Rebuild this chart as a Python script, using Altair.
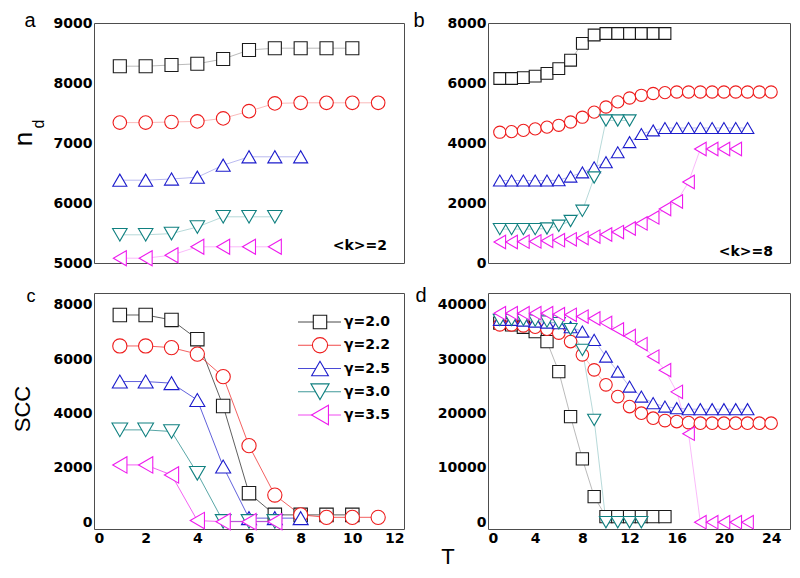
import altair as alt
import pandas as pd

SERIES = ["γ=2.0", "γ=2.2", "γ=2.5", "γ=3.0", "γ=3.5"]
COLORS = ["#1a1a1a", "#ee1c1c", "#1c1ccc", "#108080", "#ee1cee"]
SHAPES = ["square", "circle", "triangle-up", "triangle-down", "triangle-left"]

# ---- panel a (<k>=2, n_d) ----
a_sq = [8280, 8280, 8300, 8320, 8400, 8550, 8580, 8580, 8580, 8580]
a_ci = [7340, 7340, 7350, 7360, 7410, 7530, 7660, 7670, 7670, 7670, 7670]
a_tu = [6380, 6380, 6400, 6430, 6630, 6770, 6770, 6770]
a_td = [5470, 5470, 5490, 5600, 5770, 5770, 5770]
a_tl = [5080, 5080, 5130, 5270, 5270, 5270, 5270]

# ---- panel b (<k>=8, n_d) ----
b_sq = [6150, 6150, 6180, 6230, 6320, 6480, 6760, 7320, 7600, 7650, 7650, 7650, 7650, 7650, 7650]
b_ci = [4360, 4380, 4420, 4470, 4530, 4590, 4700, 4860, 5030, 5200, 5370, 5500, 5590, 5650, 5680,
        5700, 5700, 5700, 5700, 5700, 5700, 5700, 5700, 5700]
b_tu = [2750, 2750, 2750, 2750, 2750, 2760, 2880, 3020, 3190, 3360, 3690, 4030, 4300, 4420,
        4500, 4500, 4500, 4500, 4500, 4500, 4500, 4500]
b_td = [1130, 1130, 1130, 1130, 1150, 1240, 1400, 1740, 2850, 4750, 4750, 4750]
b_tl = [700, 700, 710, 720, 740, 760, 790, 830, 880, 950, 1030, 1150, 1320, 1520, 1800, 2050,
        2700, 3800, 3800, 3800, 3800]

# ---- panel c (<k>=2, SCC) ----
c_sq = [7630, 7630, 7450, 6740, 4280, 1070, 270, 270, 270, 270]
c_ci = [6490, 6490, 6430, 6190, 5360, 2820, 1000, 270, 180, 180, 180]
c_tu = [5180, 5180, 5120, 4500, 2050, 150, 150, 150]
c_td = [3400, 3400, 3340, 1800, 30, 30, 30]
c_tl = [2110, 2110, 1740, 60, 20, 20, 20]

# ---- panel d (<k>=8, SCC) ----
d_sq = [36650, 36340, 35900, 35100, 33260, 27730, 19450, 11660, 4720, 1030, 1030, 1030, 1030, 1030, 1030]
d_ci = [36340, 36340, 36150, 35910, 35540, 34810, 33260, 30810, 28050, 25290, 23130, 21290, 20070,
        19150, 18710, 18530, 18340, 18230, 18230, 18230, 18230, 18230, 18230, 18230]
d_tu = [37260, 37260, 37130, 36940, 36760, 36650, 35910, 35100, 33570, 30500, 27740, 24970, 23130,
        21920, 21290, 20990, 20810, 20810, 20810, 20810, 20810, 20810]
d_td = [37250, 37250, 37250, 37130, 36940, 36650, 35540, 31730, 18840, 0, 0, 0, 0]
d_tl = [38490, 38490, 38490, 38490, 38490, 38300, 38180, 37860, 37500, 36700, 35500, 34300, 32800,
        30500, 28000, 24000, 16300, 0, 0, 0, 0, 0]

X_TICKS_LEFT = [0, 2, 4, 6, 8, 10, 12]
X_TICKS_RIGHT = [0, 4, 8, 12, 16, 20, 24]


def make_df(lists):
    rows = []
    for k, (name, vals) in enumerate(zip(SERIES, lists)):
        for i, v in enumerate(vals):
            rows.append({"series": name, "k": k, "T": i + 1, "v": v})
    return pd.DataFrame(rows)


def txt(text, x, y, size, weight="normal", angle=0, align="center",
        baseline="alphabetic", font="Liberation Sans"):
    return alt.Chart(pd.DataFrame({"t": [text]})).mark_text(
        fontSize=size, fontWeight=weight, angle=angle, align=align,
        baseline=baseline, font=font, color="black"
    ).encode(x=alt.value(x), y=alt.value(y), text="t:N")


stroke_enc = alt.Stroke("series:N", scale=alt.Scale(domain=SERIES, range=COLORS), legend=None)
shape_enc = alt.Shape("series:N", scale=alt.Scale(domain=SERIES, range=SHAPES), legend=None)


def panel(df, xdom, ydom, w, h, sizes, xticks, yticks, line_op, line_w, extra):
    base = alt.Chart(df)
    xaxis = alt.Axis(values=xticks, title=None, format="d") if xticks else None
    xenc = alt.X("T:Q", scale=alt.Scale(domain=xdom, nice=False, zero=False), axis=xaxis)
    yscale = alt.Scale(domain=ydom, nice=False, zero=False)
    lines = base.mark_line(strokeWidth=line_w, opacity=line_op).encode(
        x=xenc,
        y=alt.Y("v:Q", scale=yscale, axis=alt.Axis(values=yticks, title=None, format="d")),
        stroke=stroke_enc, detail="series:N", order="T:Q")
    pts = base.mark_point(filled=True, fill="white", strokeWidth=1.1, opacity=1).encode(
        x=xenc,
        y=alt.Y("v:Q", scale=yscale, axis=None),
        stroke=stroke_enc, shape=shape_enc,
        size=alt.Size("series:N", scale=alt.Scale(domain=SERIES, range=sizes), legend=None))
    return alt.layer(lines, pts, *extra).resolve_scale(
        y="independent", size="independent").properties(width=w, height=h)


# legend for panel c
leg_df = pd.DataFrame({"series": SERIES, "row": list(range(5))})
leg_y = alt.Y("row:Q", scale=alt.Scale(domain=[0, 4], range=[29, 122]), axis=None)
leg_rule = alt.Chart(leg_df).mark_rule(strokeWidth=0.8).encode(
    x=alt.value(204), x2=alt.value(247), y=leg_y, stroke=stroke_enc)
leg_pts = alt.Chart(leg_df).mark_point(filled=True, fill="white", strokeWidth=1.1, opacity=1).encode(
    x=alt.value(226), y=leg_y, stroke=stroke_enc, shape=shape_enc,
    size=alt.Size("series:N", scale=alt.Scale(domain=SERIES, range=[180, 380, 420, 420, 420]), legend=None))
leg_txt = alt.Chart(leg_df).mark_text(align="left", baseline="middle", font="DejaVu Sans",
                                      fontWeight="bold", fontSize=14, color="black").encode(
    x=alt.value(250), y=leg_y, text="series:N")

pa = panel(make_df([a_sq, a_ci, a_tu, a_td, a_tl]), [0, 12], [5000, 9000], 310, 240,
           [170, 225, 280, 280, 280], None, [5000, 6000, 7000, 8000, 9000], 0.3, 1,
           [txt("a", -64, 4, 20),
            txt("n", -62, 116, 26, angle=270),
            txt("d", -50, 101, 16, angle=270),
            txt("<k>=2", 293, 227, 14, weight="bold", align="right", font="DejaVu Sans")])

pb = panel(make_df([b_sq, b_ci, b_tu, b_td, b_tl]), [0, 25.6], [0, 8000], 302, 240,
           [140, 180, 220, 220, 220], None, [0, 2000, 4000, 6000, 8000], 0.3, 1,
           [txt("b", -69, 4, 20),
            txt("<k>=8", 285, 233, 14, weight="bold", align="right", font="DejaVu Sans")])

pc = panel(make_df([c_sq, c_ci, c_tu, c_td, c_tl]), [0, 12], [-250, 8440], 310, 236,
           [180, 270, 320, 320, 320], X_TICKS_LEFT, [0, 2000, 4000, 6000, 8000], 1, 0.7,
           [txt("c", -63, 9, 18),
            txt("SCC", -64, 116, 22, angle=270),
            leg_rule, leg_pts, leg_txt])

pd_ = panel(make_df([d_sq, d_ci, d_tu, d_td, d_tl]), [0, 25.6], [-1250, 42200], 302, 236,
            [150, 180, 220, 220, 220], X_TICKS_RIGHT, [0, 10000, 20000, 30000, 40000], 0.3, 1,
            [txt("d", -67, 9, 20),
             txt("T", -40, 271, 22)])

chart = alt.concat(pa, pb, pc, pd_, columns=2, spacing={"row": 30, "column": 84},
                   bounds="flush").properties(
    padding={"left": 2, "top": 2, "right": 0, "bottom": 0}).configure_view(
    stroke="#4d4d4d", strokeWidth=1).configure_axis(
    labelFont="DejaVu Sans", labelFontWeight="bold", labelFontSize=14, labelColor="black",
    ticks=False, domain=False, grid=False, labelPadding=2)

chart.save("out.html", embed_options={"renderer": "svg", "actions": False})
